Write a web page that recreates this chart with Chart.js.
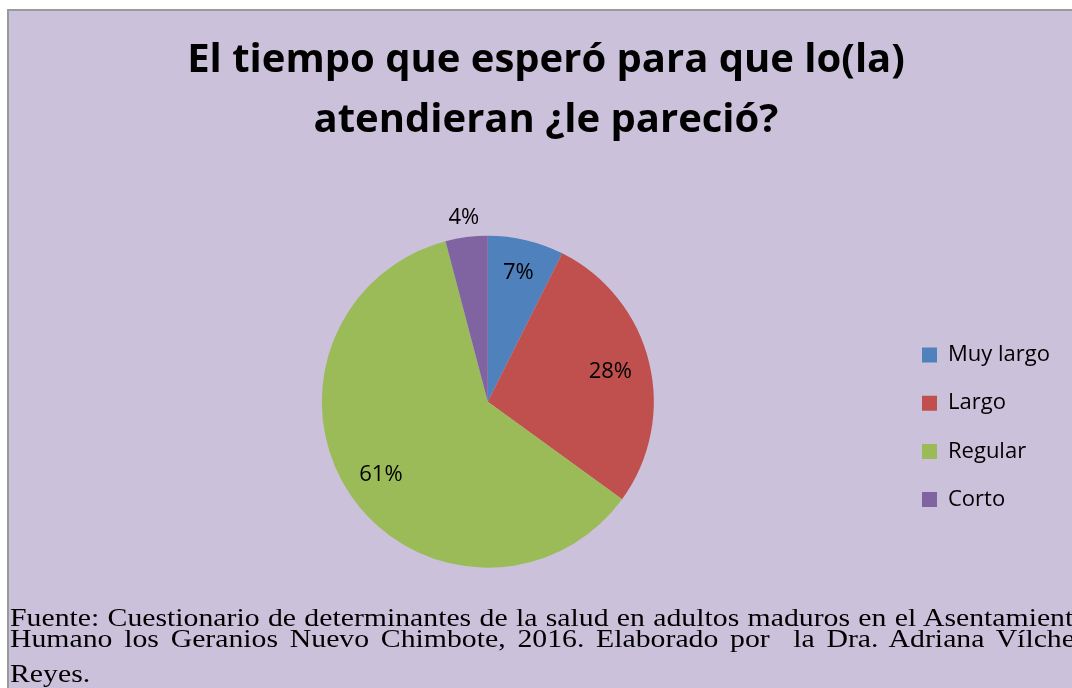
<!DOCTYPE html>
<html>
<head>
<meta charset="utf-8">
<script src="https://cdn.jsdelivr.net/npm/chart.js@4.4.1/dist/chart.umd.min.js"></script>
<style>
html,body{margin:0;padding:0;width:1072px;height:688px;overflow:hidden;background:#fff;}
#frame{position:absolute;left:7px;top:9px;width:1100px;height:700px;background:#ccc1da;border-left:2px solid #9a9a9a;border-top:2px solid #9a9a9a;}
#wrap{position:absolute;left:4px;top:10px;width:1084px;height:678px;}
.fn{position:absolute;left:10px;width:906px;font-family:"Liberation Serif","Times New Roman",serif;font-size:25px;line-height:25px;height:25px;color:#000;white-space:nowrap;text-align:justify;text-align-last:justify;transform:scaleX(1.19);transform-origin:0 0;}
#f3{text-align:left;text-align-last:left;}
</style>
</head>
<body>
<div id="frame"></div>
<div id="wrap"><canvas id="c" width="1084" height="678"></canvas></div>
<div class="fn" id="f1" style="top:605px">Fuente: Cuestionario de determinantes de la salud en adultos maduros en el Asentamiento</div>
<div class="fn" id="f2" style="top:626px">Humano los Geranios Nuevo Chimbote, 2016. Elaborado por&nbsp; la Dra. Adriana Vílchez</div>
<div class="fn" id="f3" style="top:661px">Reyes.</div>
<script>
const categories = ["Muy largo", "Largo", "Regular", "Corto"];
const percentValues = [7.4, 27.6, 60.9, 4.1];
const sliceColors = ["#4f81bd", "#c0504d", "#9bbb59", "#8064a2"];
const titleLines = ["El tiempo que esperó para que lo(la)", "atendieran ¿le pareció?"];
const labelRadius = [0.80, 0.76, 0.78, 1.12];

const sliceLabels = {
  id: 'sliceLabels',
  afterDatasetsDraw(chart, args, opts) {
    const ctx = chart.ctx;
    const meta = chart.getDatasetMeta(0);
    const vals = chart.data.datasets[0].data;
    ctx.save();
    ctx.font = '22px "Open Sans"';
    ctx.fillStyle = '#000';
    ctx.textAlign = 'center';
    ctx.textBaseline = 'middle';
    meta.data.forEach((arc, i) => {
      const p = arc.getProps(['x', 'y', 'startAngle', 'endAngle', 'outerRadius'], true);
      const mid = (p.startAngle + p.endAngle) / 2;
      const r = p.outerRadius * opts.radii[i];
      ctx.fillText(Math.round(vals[i]) + '%', p.x + Math.cos(mid) * r, p.y + Math.sin(mid) * r);
    });
    ctx.restore();
  }
};

const titleCenter = {
  id: 'titleCenter',
  afterLayout(chart, args, opts) {
    const t = chart.titleBlock;
    if (!t) return;
    const w = t.right - t.left;
    t.left = opts.x - w / 2;
    t.right = t.left + w;
  }
};

function build() {
  const chart = new Chart(document.getElementById('c'), {
    type: 'pie',
    data: {
      labels: categories,
      datasets: [{
        data: percentValues,
        backgroundColor: sliceColors,
        borderWidth: 0,
        radius: 166
      }]
    },
    options: {
      responsive: false,
      animation: false,
      events: [],
      layout: { padding: { left: 75.8, right: 60, top: 0, bottom: 55.1 } },
      plugins: {
        title: {
          display: true,
          text: titleLines,
          color: '#000',
          font: { family: 'Open Sans', size: 40, weight: 'bold', lineHeight: 1.5 },
          padding: { top: 20.5, bottom: 20 }
        },
        legend: {
          display: true,
          position: 'right',
          align: 'center',
          fullSize: false,
          title: { display: true, text: ' ', padding: 0, font: { size: 10, lineHeight: '51.2px' } },
          labels: {
            boxWidth: 15,
            boxHeight: 15,
            padding: 26.2,
            color: '#000',
            font: { family: 'Open Sans', size: 22 }
          }
        },
        tooltip: { enabled: false },
        sliceLabels: { radii: labelRadius },
        titleCenter: { x: 542 }
      }
    },
    plugins: [sliceLabels, titleCenter]
  });
  // place legend so its first box starts at x=918 (canvas coords)
  const legendW = chart.legend.width;
  chart.options.layout.padding.right = 1084 - 891.8 - legendW;
  chart.update();
}
Promise.all([document.fonts.load('bold 40px "Open Sans"'), document.fonts.load('22px "Open Sans"')]).then(build, build);
</script>
</body>
</html>
